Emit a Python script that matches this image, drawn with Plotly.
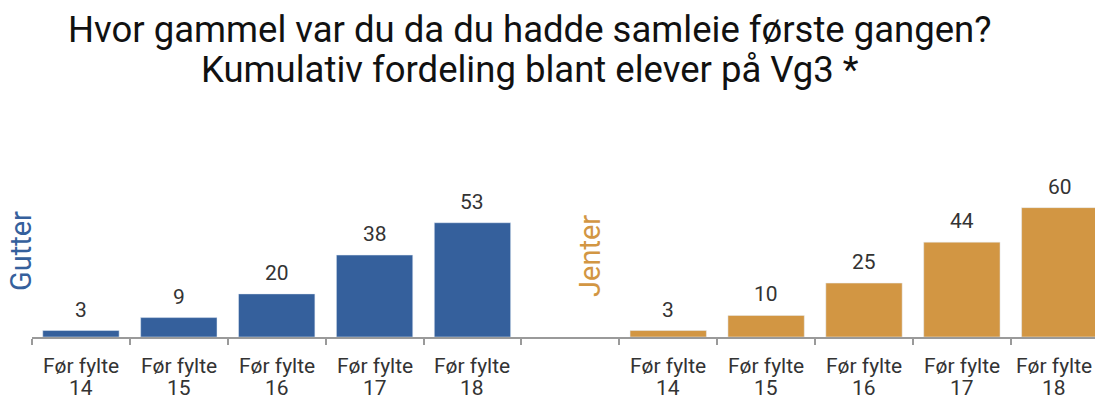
import plotly.graph_objects as go

# ---- data ----
tick_prefix = "Før fylte"
ages = ["14", "15", "16", "17", "18"]
gutter_values = [3, 9, 20, 38, 53]
jenter_values = [3, 10, 25, 44, 60]
group_names = ["Gutter", "Jenter"]
title_lines = ["Hvor gammel var du da du hadde samleie første gangen?",
               "Kumulativ fordeling blant elever på Vg3 *"]

BLUE = "#35609c"
ORANGE = "#d29643"
TEXT = "#333333"
FONT = "Roboto"

W, H = 1095, 400
ml, mr, mt, mb = 32, 0, 130, 63
PW, PH = W - ml - mr, H - mt - mb


def px_to_paper(x, y):
    return (x - ml) / PW, (H - mb - y) / PH


gutter_cats = [f"G{a}" for a in ages]
gap_cat = ["gap"]
jenter_cats = [f"J{a}" for a in ages]
all_cats = gutter_cats + gap_cat + jenter_cats

fig = go.Figure()
fig.add_trace(go.Bar(x=gutter_cats, y=gutter_values, marker_color=BLUE,
                     width=0.78, name=group_names[0], hoverinfo="y"))
fig.add_trace(go.Bar(x=jenter_cats, y=jenter_values, marker_color=ORANGE,
                     width=0.78, name=group_names[1], hoverinfo="y"))

for cats, vals in ((gutter_cats, gutter_values), (jenter_cats, jenter_values)):
    for c, v, a in zip(cats, vals, ages):
        # keep the right-most label inside the page edge
        xs = -6 if c == all_cats[-1] else 0
        # value label
        fig.add_annotation(x=c, y=v, text=str(v), showarrow=False,
                           yanchor="bottom", yshift=7,
                           font=dict(family=FONT, size=21, color=TEXT))
        # category label, two lines
        fig.add_annotation(x=c, y=0, text=tick_prefix, showarrow=False,
                           yanchor="middle", yshift=-29, xshift=xs, borderpad=0,
                           font=dict(family=FONT, size=21, color=TEXT))
        fig.add_annotation(x=c, y=0, text=a, showarrow=False,
                           yanchor="middle", yshift=-51, xshift=xs, borderpad=0,
                           font=dict(family=FONT, size=21, color=TEXT))

# group labels (rotated)
for name, color, (px, py) in ((group_names[0], BLUE, (21, 251)),
                              (group_names[1], ORANGE, (590, 256))):
    x, y = px_to_paper(px, py)
    fig.add_annotation(x=x, y=y, xref="paper", yref="paper", text=name,
                       textangle=-90, showarrow=False,
                       xanchor="center", yanchor="middle",
                       font=dict(family=FONT, size=29, color=color))

# title lines
for line, py in zip(title_lines, (29, 69)):
    x, y = px_to_paper(530, py)
    fig.add_annotation(x=x, y=y, xref="paper", yref="paper", text=line,
                       showarrow=False, xanchor="center", yanchor="middle",
                       font=dict(family=FONT, size=36.5, color="#111111"))

fig.update_layout(
    width=W, height=H,
    margin=dict(l=ml, r=mr, t=mt, b=mb, autoexpand=False),
    plot_bgcolor="white", paper_bgcolor="white",
    showlegend=False,
    xaxis=dict(type="category", categoryorder="array", categoryarray=all_cats,
               tickson="boundaries", showticklabels=False,
               range=[-0.5, 10.36], showline=True, linecolor="#9a9a9a", linewidth=1.5,
               ticks="outside", ticklen=6, tickcolor="#9a9a9a", tickwidth=1.5,
               automargin=False, showgrid=False),
    yaxis=dict(range=[0, 96], visible=False, showgrid=False, zeroline=False,
               automargin=False),
)

fig.write_html("out.html", config={"displayModeBar": False},
               post_script="document.body.style.margin='0';document.body.style.overflow='hidden';")
